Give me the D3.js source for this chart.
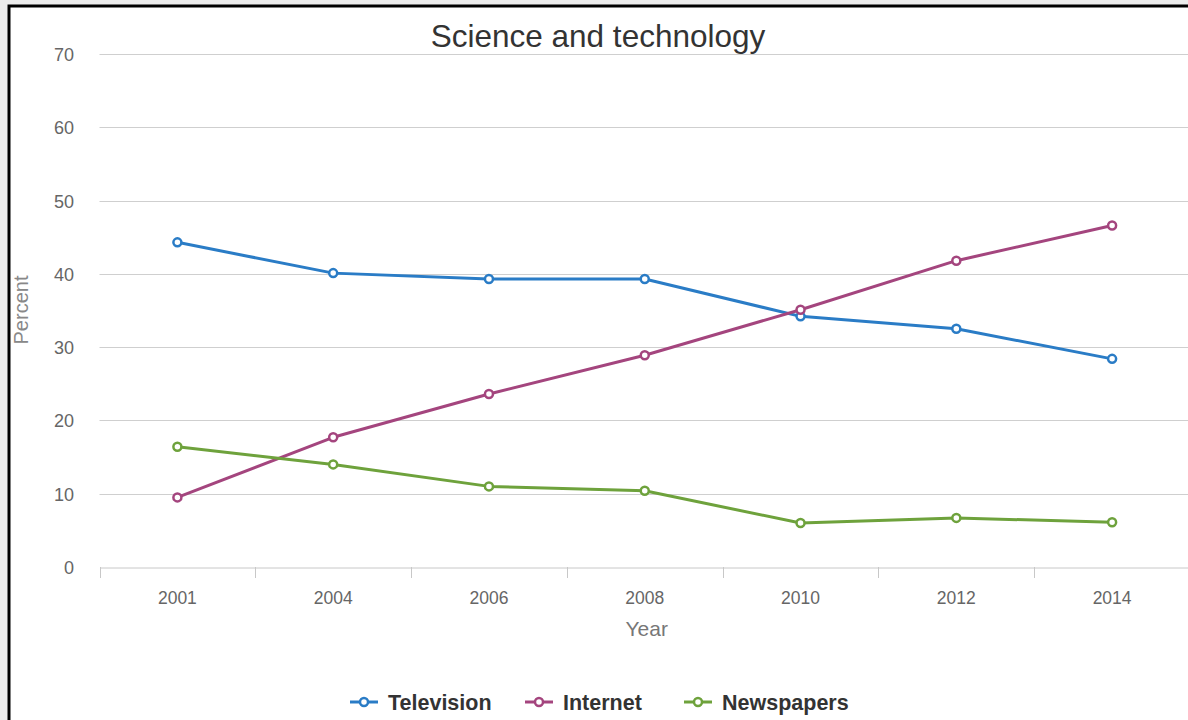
<!DOCTYPE html>
<html>
<head>
<meta charset="utf-8">
<script src="https://cdn.jsdelivr.net/npm/d3@7"></script>
<style>
  html, body { margin: 0; padding: 0; background: #ececec; }
  svg { display: block; font-family: "Liberation Sans", Arial, sans-serif; }
</style>
</head>
<body>
<svg id="chart" width="1188" height="720"></svg>
<script>
// Share of people using each source for science and technology news
const years = ["2001", "2004", "2006", "2008", "2010", "2012", "2014"];
const television = [44.3, 40.1, 39.3, 39.3, 34.2, 32.5, 28.4];
const internet = [9.5, 17.7, 23.6, 28.9, 35.1, 41.8, 46.6];
const newspapers = [16.4, 14.0, 11.0, 10.4, 6.0, 6.7, 6.1];
const yTicks = [0, 10, 20, 30, 40, 50, 60, 70];

const seriesList = [
  { name: "Television", values: television, color: "#2a7cc6" },
  { name: "Internet", values: internet, color: "#a4457e" },
  { name: "Newspapers", values: newspapers, color: "#6ea23c" }
];

const svg = d3.select("#chart");

// framed white panel
svg.append("rect").attr("x", 9).attr("y", 6).attr("width", 1190).attr("height", 730)
  .attr("fill", "#fff").attr("stroke", "#000").attr("stroke-width", 3);

const x = d3.scaleBand().domain(years).range([99.5, 1190]);
const y = d3.scaleLinear().domain([0, 70]).range([567, 54]);

// horizontal gridlines
svg.append("g").selectAll("line").data(yTicks.filter(d => d > 0)).join("line")
  .attr("x1", 99.5).attr("x2", 1188)
  .attr("y1", d => Math.round(y(d)) + 0.5).attr("y2", d => Math.round(y(d)) + 0.5)
  .attr("stroke", "#cfcfcf").attr("stroke-width", 1);

// y tick labels
svg.append("g").selectAll("text").data(yTicks).join("text")
  .attr("x", 74).attr("y", d => y(d) + 7)
  .attr("text-anchor", "end").attr("font-size", 18).attr("fill", "#666")
  .text(d => d);

// x axis line with ticks at category boundaries
const xAxis = d3.axisBottom(x).tickSize(0).tickPadding(0);
const gx = svg.append("g").attr("transform", "translate(0,567.5)").call(xAxis);
gx.select(".domain").attr("stroke", "#c8c8c8");
gx.selectAll(".tick text").attr("dy", 0).attr("y", 36)
  .attr("font-size", 17.5).attr("fill", "#666").attr("font-family", "Liberation Sans, Arial, sans-serif");
const bounds = years.map(d => x(d));
svg.append("g").selectAll("line").data(bounds).join("line")
  .attr("x1", d => Math.round(d) + 0.5).attr("x2", d => Math.round(d) + 0.5)
  .attr("y1", 567).attr("y2", 578)
  .attr("stroke", "#c8c8c8").attr("stroke-width", 1);

// axis titles
svg.append("text").attr("x", (99.5 + 1190) / 2 + 2).attr("y", 636)
  .attr("text-anchor", "middle").attr("font-size", 21).attr("fill", "#777").text("Year");
svg.append("text").attr("transform", "translate(28,310) rotate(-90)")
  .attr("text-anchor", "middle").attr("font-size", 20).attr("fill", "#888").text("Percent");

// chart title
svg.append("text").attr("x", 598).attr("y", 47)
  .attr("text-anchor", "middle").attr("font-size", 31.5).attr("fill", "#333")
  .text("Science and technology");

// series lines and markers
const cx = i => x(years[i]) + x.bandwidth() / 2;
const line = d3.line().x((d, i) => cx(i)).y(d => y(d));

seriesList.forEach(s => {
  const g = svg.append("g");
  g.append("path").datum(s.values).attr("d", line)
    .attr("fill", "none").attr("stroke", s.color).attr("stroke-width", 3)
    .attr("stroke-linejoin", "round");
  g.selectAll("circle").data(s.values).join("circle")
    .attr("cx", (d, i) => cx(i)).attr("cy", d => y(d)).attr("r", 4)
    .attr("fill", "#fff").attr("stroke", s.color).attr("stroke-width", 2.5);
});

// legend
const legendX = [350, 525, 684];
const legend = svg.append("g");
seriesList.forEach((s, i) => {
  const g = legend.append("g").attr("transform", `translate(${legendX[i]},702)`);
  g.append("line").attr("x1", 0).attr("x2", 28).attr("y1", 0).attr("y2", 0)
    .attr("stroke", s.color).attr("stroke-width", 3);
  g.append("circle").attr("cx", 14).attr("cy", 0).attr("r", 4)
    .attr("fill", "#fff").attr("stroke", s.color).attr("stroke-width", 2.5);
  g.append("text").attr("x", 38).attr("y", 8)
    .attr("font-size", 21.5).attr("font-weight", "bold").attr("fill", "#333")
    .text(s.name);
});
</script>
</body>
</html>
